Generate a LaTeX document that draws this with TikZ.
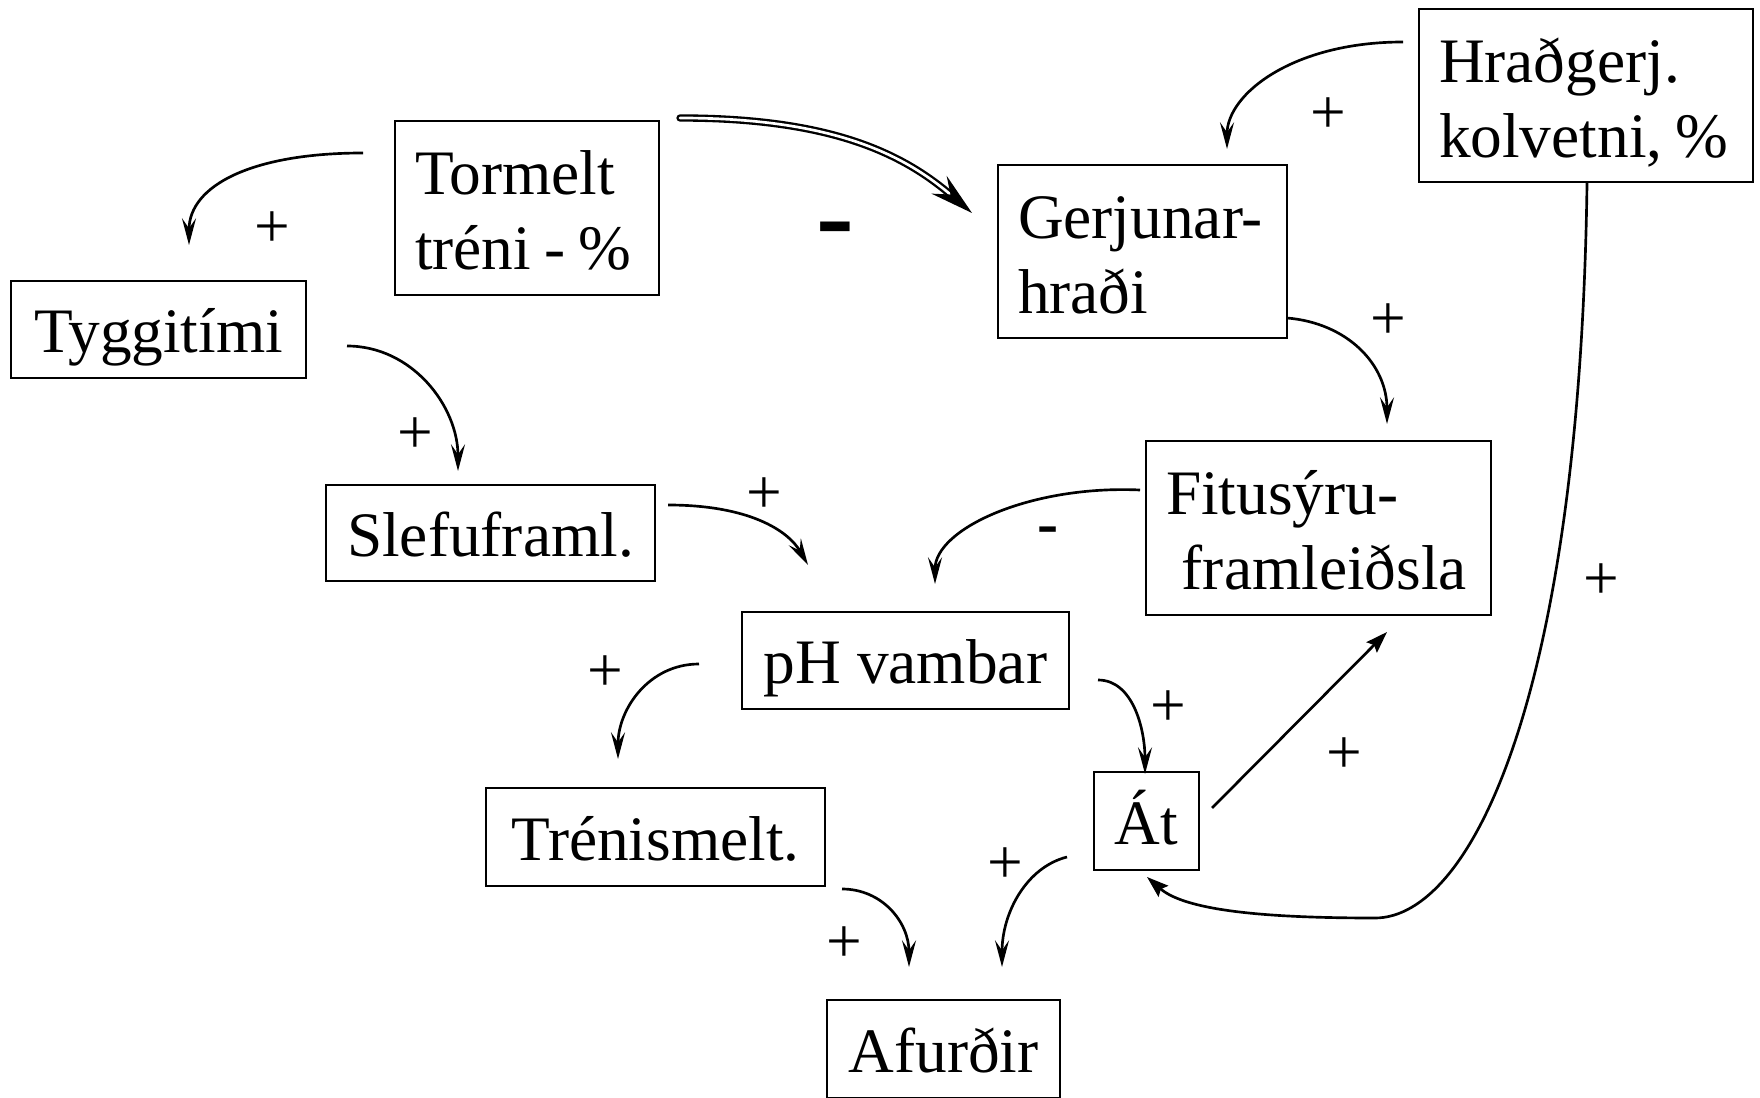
\documentclass[tikz,border=0pt]{standalone}
\usepackage{fontspec}
\setmainfont{Liberation Serif}
\usetikzlibrary{arrows.meta}
\newcommand{\topstrut}{\rule{0pt}{18.5pt}}
\newcommand{\botstrut}{\rule[-4pt]{0pt}{0pt}}
\newcommand{\nsp}{\hspace{0.21em}}
\begin{document}
\begin{tikzpicture}[x=0.3pt,y=-0.3pt,
  every node/.style={font=\fontsize{19}{22.5}\selectfont},
  sbox/.style={draw,line width=0.75pt,inner sep=0pt,text height=16.5pt,text depth=2.7pt},
  mbox/.style={draw,line width=0.75pt,inner xsep=6pt,inner ysep=0pt,align=left},
  conn/.style={line width=0.8pt,-{Stealth[length=8pt,width=4.2pt,inset=3pt]}},
  fconn/.style={line width=0.8pt,-{Stealth[length=6.5pt,width=4.4pt,inset=1pt]}},
  dconn/.style={double,line width=0.7pt,double distance=0.8pt,line cap=round,-{Stealth[length=13pt,width=7pt,inset=4.5pt]}},
  sign/.style={inner sep=0pt}]
\useasboundingbox (0,0) rectangle (1760,1098);
% boxes
\node[mbox,text width=67.2pt,minimum width=79.2pt,minimum height=52.2pt] (tormelt) at (527,208) {\topstrut\mbox{Tormelt}\\\mbox{tréni\nsp-\nsp\%}\botstrut};
\node[mbox,text width=74.7pt,minimum width=86.7pt,minimum height=51.9pt] (gerj) at (1142.5,251.5) {\topstrut\mbox{Gerjunar-}\\\mbox{hraði}\botstrut};
\node[mbox,text width=88.2pt,minimum width=100.2pt,minimum height=51.9pt] (hradg) at (1586,95.5) {\topstrut\mbox{Hraðgerj.}\\\mbox{kolvetni,\nsp\%}\botstrut};
\node[mbox,text width=91.5pt,minimum width=103.5pt,minimum height=52.2pt] (fitu) at (1318.5,528) {\topstrut\mbox{Fitusýru-}\\\hspace*{0.25em}\mbox{framleiðsla}\botstrut};
\node[sbox,minimum width=88.5pt,minimum height=29.1pt] (tyggi) at (158.5,329.5) {Tyggitími};
\node[sbox,minimum width=98.7pt,minimum height=28.8pt] (slefu) at (490.5,533) {Slefuframl.};
\node[sbox,minimum width=98.1pt,minimum height=29.1pt] (ph) at (905.5,660.5) {pH vambar};
\node[sbox,minimum width=101.7pt,minimum height=29.4pt] (treni) at (655.5,837) {Trénismelt.};
\node[sbox,minimum width=31.5pt,minimum height=29.4pt] (at) at (1146.5,821) {Át};
\node[sbox,minimum width=69.9pt,minimum height=29.4pt] (afur) at (943.5,1049) {Afurðir};
% connectors
\draw[conn] ([shift={(-164,-55)}]tormelt.center) .. controls +(-110,0) and +(0,-60) .. ([shift={(30.5,-84.5)}]tyggi.center);
\draw[dconn] ([shift={(153,-90)}]tormelt.center) .. controls +(150,0) and +(-70,-60) .. ([shift={(-170.5,-38.5)}]gerj.center);
\draw[conn] ([shift={(-183,-53.5)}]hradg.center) .. controls +(-110,0) and +(0,-55) .. ([shift={(84.5,-102.5)}]gerj.center);
\draw[conn] ([shift={(188.5,16.5)}]tyggi.center) .. controls +(65,0) and +(0,-65) .. ([shift={(-32.5,-62)}]slefu.center);
\draw[conn] ([shift={(144.5,66.5)}]gerj.center) .. controls +(60,5) and +(0,-60) .. ([shift={(68.5,-104)}]fitu.center);
\draw[conn] ([shift={(177.5,-28)}]slefu.center) .. controls +(80,0) and +(-20,-35) .. ([shift={(-97.5,-95.5)}]ph.center);
\draw[conn] ([shift={(-178.5,-38)}]fitu.center) .. controls +(-110,-5) and +(0,-55) .. ([shift={(29.5,-76.5)}]ph.center);
\draw[conn] ([shift={(-206.5,3.5)}]ph.center) .. controls +(-50,0) and +(0,-50) .. ([shift={(-37.5,-78)}]treni.center);
\draw[conn] ([shift={(192.5,19.5)}]ph.center) .. controls +(35,0) and +(0,-45) .. ([shift={(-1.5,-47)}]at.center);
\draw[fconn] ([shift={(65.5,-13)}]at.center) -- ([shift={(68.5,104)}]fitu.center);
\coordinate (hbend) at (1375,918);
\draw[fconn] ([shift={(1,87.5)}]hradg.center) .. controls +(-7,517) and +(95,0) .. (hbend) .. controls +(-100,0) and +(40,35) .. ([shift={(0.5,56)}]at.center);
\draw[conn] ([shift={(186.5,52)}]treni.center) .. controls +(40,0) and +(0,-45) .. ([shift={(-34.5,-82)}]afur.center);
\draw[conn] ([shift={(-79.5,36)}]at.center) .. controls +(-40,10) and +(0,-55) .. ([shift={(58.5,-82)}]afur.center);
% signs
\node[sign] (p1) at (272,230) {+};
\node[sign,font=\fontsize{34}{40}\selectfont\bfseries] (m1) at (835,238) {-};
\node[sign] (p2) at (1328,116) {+};
\node[sign] (p3) at (415,436) {+};
\node[sign] (p4) at (1388,322) {+};
\node[sign] (p5) at (764,496) {+};
\node[sign,font=\fontsize{19}{22.5}\selectfont\bfseries] (m2) at (1048,536) {-};
\node[sign] (p6) at (605,674) {+};
\node[sign] (p7) at (1168,709) {+};
\node[sign] (p8) at (1344,756) {+};
\node[sign] (p9) at (1601,582) {+};
\node[sign] (p10) at (844,945) {+};
\node[sign] (p11) at (1005,866) {+};
\end{tikzpicture}
\end{document}
